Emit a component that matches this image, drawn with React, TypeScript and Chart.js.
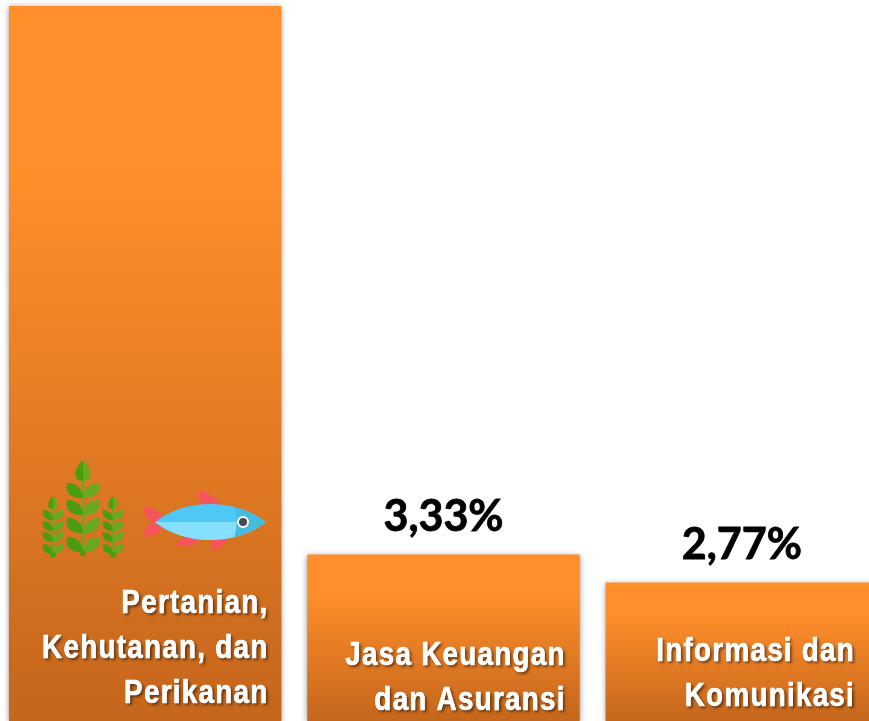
import React, { useEffect, useRef } from "react";
import { Chart, registerables } from "chart.js";

Chart.register(...registerables);

const categories = [
  ["Pertanian,", "Kehutanan, dan", "Perikanan"],
  ["Jasa Keuangan", "dan Asuransi"],
  ["Informasi dan", "Komunikasi"],
];
const shareValues = [14.3, 3.33, 2.77];
const valueLabels = ["", "3,33%", "2,77%"];
const labelRightInsets = [13, 14, 23];
const labelBottomGaps = [18, 11, 15];

const barPlugin = {
  id: "barDecor",
  beforeDatasetDraw(chart: any) {
    const c = chart.ctx;
    c.save();
    c.shadowColor = "rgba(0,0,0,0.42)";
    c.shadowBlur = 6;
    c.shadowOffsetX = 0;
    c.shadowOffsetY = 1;
  },
  afterDatasetDraw(chart: any) {
    chart.ctx.restore();
  },
  afterDatasetsDraw(chart: any) {
    const c = chart.ctx;
    const bars = chart.getDatasetMeta(0).data;
    bars.forEach((bar: any, i: number) => {
      c.save();
      c.textBaseline = "alphabetic";
      if (valueLabels[i]) {
        c.font = "bold 43px Lato";
        c.fillStyle = "#000";
        c.strokeStyle = "#000";
        c.lineWidth = 0.8;
        c.textAlign = "center";
        c.fillText(valueLabels[i], bar.x, bar.y - 24);
        c.strokeText(valueLabels[i], bar.x, bar.y - 24);
      }
      c.font = "bold 34px 'Liberation Sans'";
      (c as any).letterSpacing = "1.5px";
      c.fillStyle = "#fff";
      c.strokeStyle = "#fff";
      c.lineWidth = 0.5;
      c.textAlign = "right";
      const lines = categories[i];
      const right = bar.x + bar.width / 2 - labelRightInsets[i];
      const last = chart.chartArea.bottom - labelBottomGaps[i];
      c.translate(right, 0);
      c.scale(0.82, 1);
      lines.forEach((line, k) => {
        const y = last - (lines.length - 1 - k) * 45;
        c.shadowColor = "rgba(0,0,0,0.55)";
        c.shadowBlur = 3;
        c.shadowOffsetX = 2;
        c.shadowOffsetY = 2;
        c.fillText(line, 0, y);
        c.shadowColor = "transparent";
        c.strokeText(line, 0, y);
        c.fillText(line, 0, y);
      });
      c.restore();
    });
  },
};

function Leaves({ cx, y, w, h, light, dark }: any) {
  return (
    <g>
      <path d={`M${cx} ${y + h} C${cx - w} ${y + h * 1.05} ${cx - w * 1.1} ${y + h * 0.4} ${cx - w} ${y} C${cx - w * 0.5} ${y - h * 0.05} ${cx - w * 0.02} ${y + h * 0.3} ${cx} ${y + h} Z`} fill={dark} />
      <path d={`M${cx} ${y + h} C${cx + w} ${y + h * 1.05} ${cx + w * 1.1} ${y + h * 0.4} ${cx + w} ${y} C${cx + w * 0.5} ${y - h * 0.05} ${cx + w * 0.02} ${y + h * 0.3} ${cx} ${y + h} Z`} fill={light} />
    </g>
  );
}

function Plant({ cx, top, tipH, tipW, rows, w, h, bottom }: any) {
  const light = "#6CA81F";
  const dark = "#4C9C12";
  return (
    <g>
      <rect x={cx - 1.2} y={top + tipH - 2} width={2.4} height={bottom - top - tipH} fill={light} />
      <path d={`M${cx} ${top} C${cx - tipW * 1.3} ${top + tipH * 0.45} ${cx - tipW * 1.3} ${top + tipH} ${cx} ${top + tipH} Z`} fill={dark} />
      <path d={`M${cx} ${top} C${cx + tipW * 1.3} ${top + tipH * 0.45} ${cx + tipW * 1.3} ${top + tipH} ${cx} ${top + tipH} Z`} fill={light} />
      {rows.map((y: number) => (
        <Leaves key={y} cx={cx} y={y} w={w} h={h} light={light} dark={dark} />
      ))}
      <circle cx={cx} cy={bottom} r={3} fill={dark} />
    </g>
  );
}

function Icons() {
  const body = "M155 522 C185 498 235 498 266 522 C235 546 185 546 155 522 Z";
  return (
    <svg width={869} height={721} style={{ position: "absolute", left: 0, top: 0, pointerEvents: "none", filter: "blur(0.4px)" }}>
      <defs>
        <clipPath id="fishBody"><path d={body} /></clipPath>
      </defs>
      <Plant cx={83} top={460} tipH={21} tipW={8} rows={[483, 500, 518, 537]} w={16} h={15} bottom={553} />
      <Plant cx={53} top={496} tipH={13} tipW={5} rows={[510, 521, 532, 544]} w={10} h={10} bottom={555} />
      <Plant cx={113} top={496} tipH={13} tipW={5} rows={[510, 521, 532, 544]} w={10} h={10} bottom={555} />
      <path d="M199 490 C210 493 218 499 223 508 L201 508 C198 500 198 495 199 490 Z" fill="#F7545B" />
      <path d="M144 508 C154 506 162 513 166 522 L155 522 C147 521 144 515 144 508 Z" fill="#F7545B" />
      <path d="M144 536 C154 538 162 531 166 522 L155 522 C147 523 144 529 144 536 Z" fill="#F7545B" />
      <path d="M175 546 C179 540 184 534 194 534 L199 541 C192 546 183 547 175 546 Z" fill="#F7545B" />
      <path d="M212 550 C210 545 212 538 213 534 L230 534 C228 543 220 548 212 550 Z" fill="#F7545B" />
      <path d={body} fill="#4FC8F5" />
      <g clipPath="url(#fishBody)">
        <rect x={150} y={522} width={120} height={24} fill="#85E0FF" />
        <path d="M232 500 C238 512 238 530 232 544 L270 544 L270 500 Z" fill="#45BBDD" />
      </g>
      <circle cx={243} cy={522} r={6} fill="#fff" />
      <circle cx={243} cy={522} r={4} fill="#48484F" />
    </svg>
  );
}

export default function App() {
  const ref = useRef<HTMLCanvasElement>(null);
  useEffect(() => {
    const chart = new Chart(ref.current as HTMLCanvasElement, {
      type: "bar",
      plugins: [barPlugin],
      data: {
        labels: categories.map((l) => l.join(" ")),
        datasets: [
          {
            data: shareValues,
            clip: false,
            categoryPercentage: 1,
            barPercentage: 0.9134,
            backgroundColor: (ctx: any) => {
              const y = ctx.chart.scales?.y;
              if (!y || ctx.raw == null) return "#FF8F2B";
              const top = y.getPixelForValue(ctx.raw);
              const base = y.getPixelForValue(0);
              if (!Number.isFinite(top) || !Number.isFinite(base)) return "#FF8F2B";
              const g = ctx.chart.ctx.createLinearGradient(0, top, 0, base);
              g.addColorStop(0, "#FF8F2B");
              g.addColorStop(0.22, "#FF8F2B");
              g.addColorStop(1, "#C5661C");
              return g;
            },
          },
        ],
      } as any,
      options: {
        responsive: false,
        animation: false,
        layout: { padding: 0 },
        plugins: { legend: { display: false }, tooltip: { enabled: false } },
        scales: {
          x: { display: false },
          y: { display: false, min: 0, max: 14.42 },
        },
      } as any,
    });
    chart.update();
    return () => chart.destroy();
  }, []);
  return (
    <div style={{ position: "fixed", left: 0, top: 0, width: 869, height: 721, overflow: "hidden", background: "#fff" }}>
      <canvas ref={ref} width={895} height={721} style={{ position: "absolute", left: -4, top: 0 }} />
      <Icons />
    </div>
  );
}
